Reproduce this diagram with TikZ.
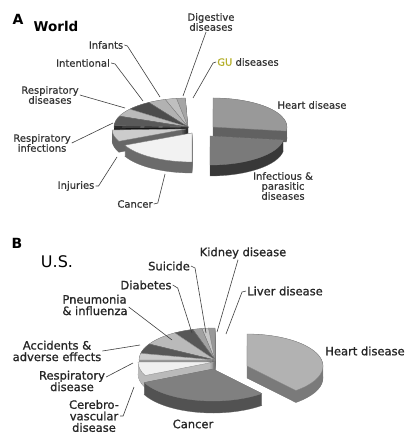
\documentclass[tikz,border=0pt]{standalone}
\usepackage{fontspec}
\setmainfont{DejaVu Sans}
\newfontfamily\lblfontA[FakeBold=0.6]{DejaVu Sans}
\newfontfamily\lblfontB[FakeBold=1.0]{DejaVu Sans}
\definecolor{guc}{RGB}{180,175,40}
\newcommand\pieslice[6]{%
 \begin{scope}[shift={(#1,-#2)}]
  \filldraw[fill=#5,draw=black!55,line width=0.3pt] (0,-\PH) -- ++({\PRX*cos(#3)},{\PRY*sin(#3)}) arc[start angle=#3,end angle=#4,x radius=\PRX,y radius=\PRY] -- cycle;
  \foreach \dd in {0,0.5,...,\PHm}{\fill[#5] (0,-\dd) -- ++({\PRX*cos(#3)},{\PRY*sin(#3)}) arc[start angle=#3,end angle=#4,x radius=\PRX,y radius=\PRY] -- cycle;}
  \filldraw[fill=#6,draw=black!50,line width=0.3pt] (0,0) -- ({\PRX*cos(#3)},{\PRY*sin(#3)}) arc[start angle=#3,end angle=#4,x radius=\PRX,y radius=\PRY] -- cycle;
 \end{scope}}
\begin{document}
\begin{tikzpicture}[x=1pt,y=1pt,
 lblA/.style={font=\lblfontA\fontsize{10}{10}\selectfont, text=black!80, inner sep=0pt, align=center},
 lblB/.style={font=\lblfontB\fontsize{11.5}{11.5}\selectfont, text=black!85, inner sep=0pt, align=center},
 leader/.style={draw=black!75, line width=0.6pt}]
\useasboundingbox[fill=white] (0,0) rectangle (408,-435);
% ---------------- Panel A ----------------
\node[font=\bfseries\fontsize{14}{14}\selectfont, inner sep=0pt] (tA) at (18,-19) {A};
\node[font=\bfseries\fontsize{13.5}{13.5}\selectfont, inner sep=0pt] (tW) at (56,-26) {World};
\def\PRX{74}\def\PRY{29}\def\PH{11}\def\PHm{10.5}
\pieslice{188}{127}{92}{99}{black!55}{black!35}     % GU
\pieslice{188}{127}{99}{108}{black!50}{black!25}    % Digestive
\pieslice{188}{127}{108}{122}{black!55}{black!30}   % Infants
\pieslice{188}{127}{122}{142}{black!88}{black!70}   % Intentional
\pieslice{188}{127}{142}{158}{black!50}{black!27}   % Respiratory diseases
\pieslice{188}{127}{158}{178}{black!82}{black!65}   % Respiratory infections
\pieslice{188}{127}{178}{182}{black!92}{black!88}   % dark sliver
\pieslice{213}{127}{-8}{90}{black!62}{black!40}     % Heart
\pieslice{186}{129}{182}{205}{black!60}{black!20}   % Injuries
\pieslice{210}{136}{270}{352}{black!78}{black!52}   % Infectious
\pieslice{192}{133}{205}{270}{black!58}{black!5}    % Cancer
% labels A
\node[lblA] (dig) at (211,-22) {Digestive\\diseases};
\coordinate (pDig) at (183,-96);
\draw[leader] ([xshift=-5pt,yshift=-1pt]dig.south) -- (pDig);
\node[lblA] (gu) at (248,-62) {\textcolor{guc}{GU} diseases};
\coordinate (pGU) at (193,-98);
\draw[leader] ([xshift=-1pt]gu.west) -- ++(-3,-1) -- (pGU);
\node[lblA] (inf) at (106,-45) {Infants};
\coordinate (pInf) at (160,-97);
\draw[leader] ([xshift=1pt]inf.east) -- ++(3,-1) -- (pInf);
\node[lblA] (int) at (83,-63) {Intentional};
\coordinate (pInt) at (143,-101);
\draw[leader] ([xshift=1pt]int.east) -- ++(4,-1) -- (pInt);
\node[lblA] (rdis) at (50,-95) {Respiratory\\diseases};
\coordinate (pRdis) at (125,-108);
\draw[leader] ([xshift=1pt]rdis.east) -- (pRdis);
\node[lblA] (rinf) at (42,-143) {Respiratory\\infections};
\coordinate (pRinf) at (113,-123);
\draw[leader] ([xshift=1pt]rinf.east) -- (pRinf);
\node[lblA] (inj) at (76,-186) {Injuries};
\coordinate (pInj) at (117,-157);
\draw[leader] ([xshift=1pt]inj.east) -- ++(3,0) -- (pInj);
\node[lblA] (can) at (135,-204) {Cancer};
\coordinate (pCan) at (165,-174);
\draw[leader] ([xshift=1pt]can.east) -- ++(4,1) -- (pCan);
\node[lblA] (hd) at (312,-105) {Heart disease};
\node[lblA] (ipd) at (283,-186) {Infectious \&\\parasitic\\diseases};
% ---------------- Panel B ----------------
\node[font=\bfseries\fontsize{14}{14}\selectfont, inner sep=0pt] (tB) at (17,-243) {B};
\node[font=\fontsize{16}{16}\selectfont, inner sep=0pt] (tUS) at (57,-262) {U.S.};
\def\PRX{76}\def\PRY{32}\def\PH{12}\def\PHm{11.5}
\pieslice{215}{360}{90}{95}{black!55}{black!40}     % Liver
\pieslice{215}{360}{95}{100}{black!40}{black!22}    % Kidney
\pieslice{215}{360}{100}{107}{black!55}{black!37}   % Suicide
\pieslice{215}{360}{107}{122}{black!82}{black!66}   % Diabetes
\pieslice{215}{360}{122}{150}{black!45}{black!27}   % Pneumonia
\pieslice{215}{360}{150}{168}{black!82}{black!66}   % Accidents
\pieslice{215}{360}{168}{180}{black!42}{black!20}   % Respiratory
\pieslice{214}{362}{180}{205}{black!27}{black!6}    % Cerebrovascular
\pieslice{247}{366}{-50}{90}{black!52}{black!30}    % Heart
\pieslice{213}{369}{205}{310}{black!68}{black!50}   % Cancer
% labels B
\node[lblB] (kid) at (243,-253) {Kidney disease};
\coordinate (pKid) at (217,-332);
\draw[leader] ([xshift=-5pt,yshift=-1pt]kid.south) -- (pKid);
\node[lblB] (sui) at (169,-266) {Suicide};
\coordinate (pSui) at (206,-333);
\draw[leader] ([xshift=1pt]sui.east) -- ++(4,-2) -- (pSui);
\node[lblB] (liv) at (285,-291) {Liver disease};
\coordinate (pLiv) at (226,-334);
\draw[leader] ([xshift=-1pt]liv.west) -- ++(-4,-1) -- (pLiv);
\node[lblB] (dia) at (146,-285) {Diabetes};
\coordinate (pDia) at (192,-333);
\draw[leader] ([xshift=1pt]dia.east) -- ++(5,-3) -- (pDia);
\node[lblB, align=left] (pne) at (95,-305) {Pneumonia\\\& influenza};
\coordinate (pPne) at (172,-340);
\draw[leader] ([xshift=1pt,yshift=-2pt]pne.east) -- (pPne);
\node[lblB] (acc) at (57,-351) {Accidents \&\\adverse effects};
\coordinate (pAcc) at (140,-345);
\draw[leader] ([xshift=1pt]acc.east) -- (pAcc);
\node[lblB] (rsp) at (72,-381) {Respiratory\\disease};
\coordinate (pRsp) at (133,-363);
\draw[leader] ([xshift=1pt,yshift=4pt]rsp.east) -- (pRsp);
\node[lblB] (cer) at (94,-416) {Cerebro-\\vascular\\disease};
\coordinate (pCer) at (134,-387);
\draw[leader] ([xshift=1pt]cer.east) -- ++(3,0) -- (pCer);
\node[lblB] (canB) at (193,-424) {Cancer};
\node[lblB] (hdB) at (365,-351) {Heart disease};
\end{tikzpicture}
\end{document}
